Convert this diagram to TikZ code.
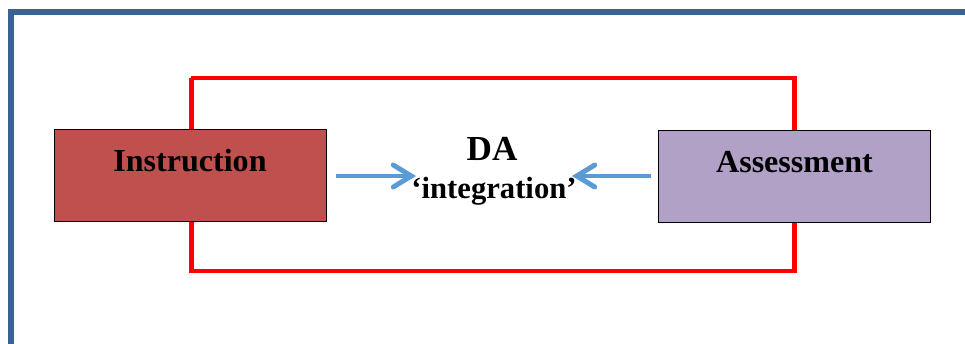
\documentclass[tikz,border=0pt]{standalone}
\usepackage{fontspec}
\setmainfont{Liberation Serif}
\usepackage{tikz}
\usetikzlibrary{calc}
\usetikzlibrary{arrows.meta}
\usetikzlibrary{backgrounds}
\definecolor{framecol}{HTML}{3B6391}
\definecolor{instrcol}{HTML}{C0504D}
\definecolor{assesscol}{HTML}{B2A1C7}
\definecolor{flowcol}{HTML}{5B9BD5}

\begin{document}
\begin{tikzpicture}[x=0.025cm, y=-0.025cm,
    box/.style={draw=black, line width=0.6pt, minimum width=6.8cm, minimum height=2.3cm,
                text height=0.6cm, text depth=0.8cm, font=\fontsize{22.8}{26}\selectfont\bfseries},
    loopline/.style={draw=red, line width=3.4pt},
    flow/.style={draw=flowcol, line width=3.5pt, -{Straight Barb[length=4.5mm, width=5.5mm, line cap=round]}}]
            \useasboundingbox (0,0) rectangle (965,343);

            % Drawing outer frame
            \draw [framecol, line width=3.6pt] (11,345) |- (967,12);%

            % Drawing box Instruction
            \node [box, fill=instrcol] (instr) at (190,175) {Instruction};%

            % Drawing box Assessment
            \node [box, fill=assesscol] (assess) at (794.5,176.5) {Assessment};%

            % Marking text DA
            \node [anchor=base, font=\fontsize{25}{30}\selectfont\bfseries] (da) at (492,160) {DA};%
            \node [anchor=base, font=\fontsize{21.8}{24}\selectfont\bfseries] (integ) at (494,198) {‘integration’};%

            % Drawing loop around both boxes
            \coordinate (loopTL) at (191,78);%
            \coordinate (loopBR) at (794.5,271);%
            \begin{scope}[on background layer]
            \draw [loopline] ([xshift=1]instr.north) |- (loopTL) -| (assess.north);%
            \draw [loopline] ([xshift=1]instr.south) |- (loopBR) -| (assess.south);%
            \end{scope}

            % Drawing arrows into DA
            \coordinate (tipL) at (416,176);%
            \coordinate (tipR) at (572,176);%
            \draw [flow] ($(instr.east)+(10,1)$) -- (tipL);%
            \draw [flow] ($(assess.west)+(-7,-0.5)$) -- (tipR);%
\end{tikzpicture}
\end{document}
